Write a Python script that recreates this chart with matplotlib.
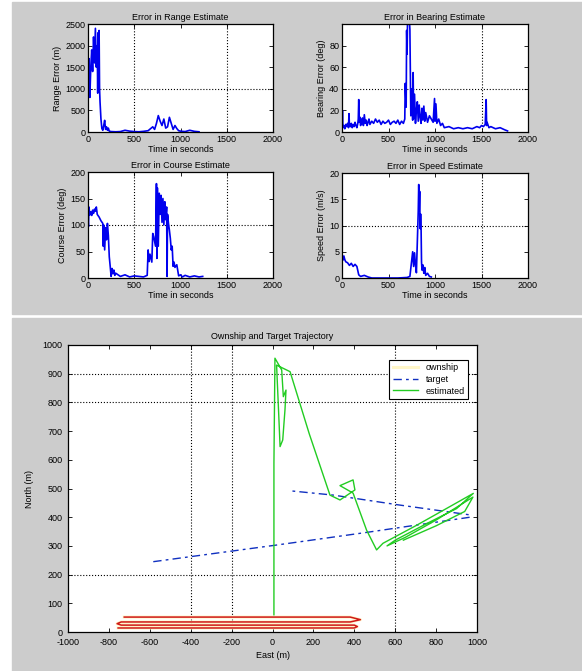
import matplotlib.pyplot as plt
from matplotlib.patches import Rectangle

plt.rcParams['font.family'] = ['Liberation Sans', 'DejaVu Sans']
plt.rcParams['font.size'] = 6.5
plt.rcParams['axes.unicode_minus'] = False

W, H = 582, 671

# ---- error in range estimate ----
rng_t = [0, 10, 20, 30, 40, 50, 60, 70, 80, 90,
         100, 105, 110, 115, 120, 125, 130, 140, 150, 160,
         170, 180, 190, 200, 210, 220, 230, 250, 300, 350,
         400, 450, 500, 550, 600, 650, 700, 720, 740, 760,
         780, 800, 820, 840, 860, 880, 900, 920, 940, 960,
         980, 1000, 1020, 1050, 1100, 1150, 1200]
rng_err = [1100, 1700, 800, 1500, 1900, 1400, 2200, 1600, 2400, 1500,
           2000, 900, 2300, 1500, 2350, 1000, 700, 300, 80, 40,
           150, 270, 60, 120, 40, 90, 20, 10, 5, 10,
           40, 20, 10, 5, 15, 30, 120, 60, 200, 380,
           250, 150, 300, 90, 120, 340, 200, 60, 150, 80,
           30, 20, 15, 10, 40, 15, 5]

# ---- error in bearing estimate ----
brg_t = [0, 5, 10, 20, 30, 40, 50, 60, 70, 75,
         80, 90, 100, 110, 120, 130, 140, 150, 160, 170,
         175, 180, 185, 190, 200, 210, 220, 230, 240, 250,
         260, 270, 280, 290, 300, 320, 340, 360, 380, 400,
         420, 440, 460, 480, 500, 520, 540, 560, 580, 600,
         620, 640, 660, 675, 680, 690, 695, 700, 705, 710,
         720, 730, 740, 750, 760, 765, 770, 780, 790, 800,
         810, 820, 830, 840, 850, 860, 870, 880, 890, 900,
         920, 940, 960, 980, 995, 1000, 1010, 1020, 1040, 1060,
         1080, 1100, 1150, 1200, 1250, 1300, 1350, 1400, 1450, 1480,
         1500, 1520, 1540, 1550, 1555, 1560, 1580, 1600, 1650, 1700,
         1750, 1780]
brg_err = [2, 20, 4, 6, 3, 7, 5, 8, 4, 17,
           6, 5, 8, 4, 7, 5, 9, 6, 4, 8,
           12, 30, 9, 14, 6, 10, 13, 6, 16, 8,
           11, 6, 9, 12, 7, 10, 8, 12, 9, 11,
           7, 10, 8, 9, 11, 7, 9, 10, 8, 11,
           7, 10, 8, 12, 45, 23, 94, 72, 105, 100,
           110, 95, 15, 40, 11, 55, 12, 35, 8, 20,
           28, 10, 25, 14, 8, 22, 11, 24, 10, 18,
           9, 15, 12, 9, 31, 10, 26, 8, 12, 6,
           8, 4, 5, 3, 4, 3, 4, 3, 5, 4,
           6, 5, 7, 30, 6, 9, 4, 5, 3, 4,
           2, 1]

# ---- error in course estimate ----
crs_t = [0, 5, 10, 20, 30, 40, 50, 60, 70, 80,
         90, 100, 120, 140, 160, 165, 170, 180, 190, 200,
         210, 220, 230, 240, 250, 260, 270, 280, 290, 300,
         350, 400, 450, 500, 550, 600, 640, 650, 660, 670,
         690, 700, 710, 730, 740, 745, 750, 760, 770, 780,
         790, 800, 810, 820, 830, 840, 850, 855, 860, 870,
         880, 890, 900, 910, 920, 930, 940, 960, 980, 1000,
         1020, 1050, 1100, 1150, 1200, 1240]
crs_err = [110, 97, 134, 119, 125, 118, 128, 122, 130, 126,
           134, 120, 115, 108, 103, 60, 100, 53, 95, 72,
           103, 80, 40, 22, 3, 18, 8, 15, 5, 9,
           3, 6, 2, 4, 3, 2, 5, 53, 31, 45,
           30, 84, 78, 60, 178, 37, 170, 60, 160, 120,
           156, 105, 150, 100, 144, 110, 134, 3, 120, 103,
           90, 75, 53, 60, 22, 30, 20, 25, 4, 6,
           2, 5, 2, 4, 2, 3]

# ---- error in speed estimate ----
spd_t = [0, 10, 20, 30, 40, 60, 80, 100, 120, 140,
         160, 180, 200, 240, 280, 320, 400, 500, 600, 700,
         730, 760, 770, 780, 790, 800, 820, 825, 830, 835,
         840, 845, 850, 855, 860, 870, 880, 890, 900, 920,
         940, 960]
spd_err = [4.4, 3.4, 4.2, 3.5, 3.1, 2.9, 2.4, 2.8, 2.2, 2.6,
           2.2, 0.6, 0.3, 0.5, 0.2, 0, 0, 0, 0, 0.1,
           0.3, 5.0, 2.2, 4.8, 2.5, 1.0, 12.8, 17.8, 13.0, 16.5,
           9.4, 12.2, 10.0, 3.1, 1.5, 2.5, 0.9, 2.0, 0.5, 0.9,
           0.3, 0.2]

# ---- trajectories ----
own_x = [-725, 380, 430, 380, -740, -760, -740, 400, 415, 400, -755]
own_y = [52, 52, 43, 35, 35, 29, 24, 24, 19, 14, 14]
tgt_x = [-583, 20, 460, 966, 966, 615, 297, 86]
tgt_y = [245, 303, 347, 400, 408, 443, 477, 492]
est_x = [7, 7, 7, 12, 45, 53, 66, 61, 50, 37, 33, 20, 86, 180, 281, 330, 403,
         394, 330, 394, 460, 509, 540, 700, 850, 982, 900, 760, 600, 560,
         650, 800, 980, 940, 800, 640]
est_y = [60, 300, 588, 954, 913, 820, 843, 774, 669, 646, 715, 930, 907, 690,
         477, 460, 495, 530, 510, 484, 355, 286, 309, 370, 430, 483, 430, 380,
         320, 300, 330, 390, 470, 420, 370, 320]

fig = plt.figure(figsize=(W / 100, H / 100), dpi=100, facecolor='white')
panel = '#cccccc'
fig.patches.append(Rectangle((12 / W, 1 - 314 / H), 570 / W, 312 / H,
                             transform=fig.transFigure, color=panel, zorder=-1))
fig.patches.append(Rectangle((12 / W, 0), 570 / W, 1 - 318 / H,
                             transform=fig.transFigure, color=panel, zorder=-1))


def px_axes(left, top, right, bottom):
    return fig.add_axes([left / W, 1 - bottom / H, (right - left) / W, (bottom - top) / H])


def style(ax, gx, gy):
    ax.tick_params(direction='in', top=True, right=True, length=3, width=0.6,
                   labelsize=6.5, pad=2)
    for s in ax.spines.values():
        s.set_linewidth(0.9)
    for g in gx:
        ax.axvline(g, color='k', ls=':', lw=0.8, zorder=0)
    for g in gy:
        ax.axhline(g, color='k', ls=':', lw=0.8, zorder=0)


blue = '#0000ee'

ax = px_axes(88, 24, 273, 132)
ax.plot(rng_t, rng_err, color=blue, lw=1.2)
ax.set_xlim(0, 2000)
ax.set_ylim(0, 2500)
ax.set_xticks([0, 500, 1000, 1500, 2000])
ax.set_yticks([0, 500, 1000, 1500, 2000, 2500])
ax.set_title('Error in Range Estimate', fontsize=6.5, pad=3)
ax.set_ylabel('Range Error (m)', labelpad=2)
ax.set_xlabel('Time in seconds', labelpad=1)
style(ax, [500, 1500], [1000])

ax = px_axes(342, 24, 528, 132)
ax.plot(brg_t, brg_err, color=blue, lw=1.2)
ax.set_xlim(0, 2000)
ax.set_ylim(0, 100)
ax.set_xticks([0, 500, 1000, 1500, 2000])
ax.set_yticks([0, 20, 40, 60, 80])
ax.set_title('Error in Bearing Estimate', fontsize=6.5, pad=3)
ax.set_ylabel('Bearing Error (deg)', labelpad=2)
ax.set_xlabel('Time in seconds', labelpad=1)
style(ax, [1500], [40])

ax = px_axes(88, 172, 273, 278)
ax.plot(crs_t, crs_err, color=blue, lw=1.2)
ax.set_xlim(0, 2000)
ax.set_ylim(0, 200)
ax.set_xticks([0, 500, 1000, 1500, 2000])
ax.set_yticks([0, 50, 100, 150, 200])
ax.set_title('Error in Course Estimate', fontsize=6.5, pad=3)
ax.set_ylabel('Course Error (deg)', labelpad=2)
ax.set_xlabel('Time in seconds', labelpad=1)
style(ax, [500, 1500], [100])

ax = px_axes(342, 173, 528, 278)
ax.plot(spd_t, spd_err, color=blue, lw=1.2)
ax.set_xlim(0, 2000)
ax.set_ylim(0, 20)
ax.set_xticks([0, 500, 1000, 1500, 2000])
ax.set_yticks([0, 5, 10, 15, 20])
ax.set_title('Error in Speed Estimate', fontsize=6.5, pad=3)
ax.set_ylabel('Speed Error (m/s)', labelpad=2)
ax.set_xlabel('Time in seconds', labelpad=1)
style(ax, [1500], [10])

ax = px_axes(68, 345, 477, 632)
ax.plot(own_x, own_y, color='#fff6c8', lw=2.2, label='ownship')
ax.plot(own_x, own_y, color='#d01818', lw=1.1, label='_nolegend_')
ax.plot(tgt_x, tgt_y, color='#1030c0', lw=1.0, ls=(0, (6, 3, 2, 3)), label='target')
ax.plot(est_x, est_y, color='#22cc22', lw=1.0, label='estimated')
ax.set_xlim(-1000, 1000)
ax.set_ylim(0, 1000)
ax.set_xticks(range(-1000, 1001, 200))
ax.set_yticks(range(0, 1001, 100))
ax.set_title('Ownship and Target Trajectory', fontsize=6.5, pad=4)
ax.set_xlabel('East (m)', labelpad=3)
ax.set_ylabel('North (m)', labelpad=6)
style(ax, [-400, -200, 600], [200, 800, 900])
ax.tick_params(axis='x', pad=4)
ax.tick_params(axis='y', pad=4)
leg = ax.legend(loc='upper right', bbox_to_anchor=(0.99, 0.965), fontsize=6.5,
                fancybox=False, edgecolor='k', framealpha=1, handlelength=2.8,
                borderpad=0.4, labelspacing=0.3)
leg.get_frame().set_linewidth(0.8)

fig.savefig('out.png', dpi=100, facecolor=fig.get_facecolor())
